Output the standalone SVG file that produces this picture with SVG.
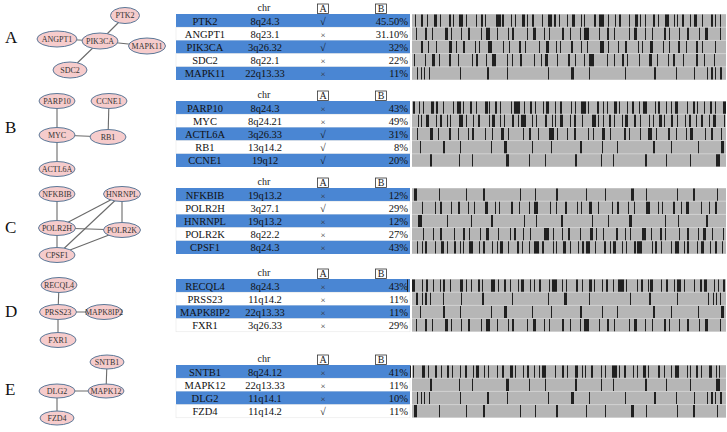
<svg xmlns="http://www.w3.org/2000/svg" xmlns:xlink="http://www.w3.org/1999/xlink" width="727" height="432" viewBox="0 0 727 432">
<style>
.lbl{font-family:"Liberation Serif","Times New Roman",serif;font-size:17px;fill:#111}
.nd ellipse{fill:#f6cccc;stroke:#5b7898;stroke-width:1}
.nd text{font-family:"Liberation Serif","Times New Roman",serif;font-size:8px;fill:#333;text-anchor:middle}
.edge{stroke:#6a6a6a;stroke-width:1.1;fill:none}
.blue{fill:#4a86d3}
.wrow{fill:#fff;stroke:#e2e2e2;stroke-width:0.5}
.t{font-family:"Liberation Serif","Times New Roman",serif;font-size:10.5px;fill:#111;text-anchor:middle}
.r{text-anchor:end}
.x{font-size:9px;fill:#333}
.hd{font-family:"Liberation Serif","Times New Roman",serif;font-size:10px;fill:#222;text-anchor:middle}
.box{fill:#fff;stroke:#333;stroke-width:0.8}
.bg{fill:#d2d2d2}
.row{fill:#b6b6b6}
.bar{stroke:#202020;stroke-width:12.2;fill:none}
</style>
<defs>
<path id="d1" class="bar" d="M0 6.1m3 0h1m5 0h2m4 0h1m6 0h3m3 0h1m8 0h2m2 0h1m5 0h4m3 0h1m9 0h1m4 0h2m2 0h1m10 0h5m1 0h2m7 0h1m3 0h1m6 0h3m2 0h1m4 0h2m8 0h1m5 0h4m2 0h2m3 0h1m7 0h1m4 0h3m6 0h1m2 0h1m9 0h2m3 0h5m4 0h1m6 0h1m3 0h2m8 0h1m5 0h3m2 0h1m4 0h1m7 0h2m3 0h1m6 0h4m5 0h1m2 0h1m4 0h2m6 0h1m3 0h3m5 0h1m8 0h2m2 0h1m4 0h1"/>
<path id="d2" class="bar" d="M0 6.1m1 0h2m4 0h1m3 0h1m7 0h3m2 0h2m5 0h1m9 0h1m3 0h4m2 0h1m6 0h2m4 0h1m8 0h3m1 0h1m5 0h2m3 0h1m10 0h1m2 0h6m4 0h1m5 0h2m3 0h1m7 0h1m2 0h3m6 0h1m4 0h2m9 0h1m3 0h1m5 0h5m2 0h1m8 0h2m4 0h1m3 0h1m6 0h3m2 0h1m7 0h1m4 0h2m5 0h1m3 0h4m8 0h1m2 0h2m6 0h1m4 0h1m3 0h3m9 0h1m5 0h2m2 0h1m6 0h1m5 0h2m3 0h1m7 0h3m4 0h1"/>
<path id="d3" class="bar" d="M0 6.1m6 0h1m2 0h1m4 0h3m7 0h1m3 0h2m5 0h1m2 0h1m8 0h4m3 0h1m6 0h1m4 0h2m9 0h1m2 0h3m5 0h1m3 0h1m7 0h2m4 0h1m2 0h5m6 0h1m3 0h1m8 0h2m5 0h1m2 0h1m4 0h3m7 0h1m3 0h2m6 0h1m9 0h4m2 0h1m4 0h1m5 0h2m3 0h1m7 0h1m2 0h3m6 0h2m4 0h1m8 0h1m3 0h1m5 0h3m2 0h1m6 0h2m4 0h1m7 0h1m3 0h2m5 0h1m4 0h2m6 0h1m3 0h3m8 0h1m2 0h1"/>
<path id="m1" class="bar" d="M0 6.1m4 0h1m8 0h2m5 0h1m12 0h3m3 0h1m9 0h1m6 0h2m11 0h1m4 0h4m7 0h1m10 0h1m3 0h2m13 0h1m5 0h3m8 0h1m4 0h1m12 0h2m6 0h1m9 0h1m3 0h5m10 0h1m7 0h2m5 0h1m14 0h1m4 0h3m8 0h1m6 0h1m11 0h2m3 0h1m9 0h1m7 0h2m10 0h1m5 0h3m12 0h1"/>
<path id="m2" class="bar" d="M0 6.1m9 0h2m5 0h1m7 0h1m12 0h3m4 0h1m6 0h2m10 0h1m3 0h1m8 0h4m11 0h1m5 0h1m9 0h2m4 0h1m13 0h1m6 0h3m7 0h1m3 0h1m10 0h2m8 0h1m5 0h1m12 0h4m4 0h1m9 0h1m6 0h2m11 0h1m3 0h1m7 0h3m10 0h1m5 0h1m8 0h2m6 0h1m9 0h2m4 0h1m12 0h1"/>
<path id="m3" class="bar" d="M0 6.1m2 0h1m10 0h1m6 0h3m4 0h1m9 0h2m7 0h1m13 0h1m3 0h2m8 0h1m5 0h4m11 0h1m4 0h1m7 0h2m12 0h1m6 0h1m3 0h3m9 0h1m10 0h2m5 0h1m8 0h1m4 0h5m13 0h1m6 0h1m7 0h2m3 0h1m11 0h1m9 0h3m5 0h1m10 0h1m4 0h2m8 0h1m12 0h2m6 0h1m9 0h1"/>
<path id="s1" class="bar" d="M0 6.1m8 0h1m22 0h2m15 0h1m30 0h1m12 0h3m25 0h1m18 0h1m28 0h2m20 0h1m14 0h1m35 0h2m16 0h1m26 0h1m22 0h3"/>
<path id="s2" class="bar" d="M0 6.1m18 0h2m27 0h1m12 0h1m33 0h3m20 0h1m15 0h1m29 0h2m24 0h1m11 0h1m31 0h2m19 0h1m23 0h1m25 0h4"/>
<path id="s3" class="bar" d="M0 6.1m5 0h1m3 0h1m2 0h1m4 0h1m30 0h1m26 0h2m18 0h1m40 0h1m22 0h3m15 0h1m35 0h1m28 0h2m20 0h1m17 0h1m12 0h1m3 0h2m2 0h1m4 0h2"/>
</defs>

<!-- section letters -->
<text class="lbl" x="5" y="43">A</text>
<text class="lbl" x="5" y="133">B</text>
<text class="lbl" x="5" y="233">C</text>
<text class="lbl" x="5" y="317">D</text>
<text class="lbl" x="5" y="395">E</text>

<!-- connectors -->
<g id="connectors">
<line class="edge" x1="100" y1="41" x2="125" y2="16"/>
<line class="edge" x1="57" y1="39" x2="100" y2="41"/>
<line class="edge" x1="100" y1="41" x2="147" y2="46"/>
<line class="edge" x1="100" y1="41" x2="70" y2="70"/>
<line class="edge" x1="57" y1="101" x2="57" y2="135"/>
<line class="edge" x1="57" y1="135" x2="108" y2="137"/>
<line class="edge" x1="108" y1="137" x2="109" y2="101"/>
<line class="edge" x1="57" y1="135" x2="57" y2="169"/>
<line class="edge" x1="57" y1="194" x2="57" y2="228"/>
<line class="edge" x1="122" y1="194" x2="122" y2="230"/>
<line class="edge" x1="57" y1="228" x2="122" y2="230"/>
<line class="edge" x1="57" y1="228" x2="122" y2="194"/>
<line class="edge" x1="57" y1="255" x2="122" y2="194"/>
<line class="edge" x1="57" y1="255" x2="122" y2="230"/>
<line class="edge" x1="57" y1="228" x2="57" y2="255"/>
<line class="edge" x1="59" y1="285" x2="58" y2="312"/>
<line class="edge" x1="58" y1="312" x2="104" y2="312"/>
<line class="edge" x1="58" y1="312" x2="58" y2="340"/>
<line class="edge" x1="107" y1="362" x2="106" y2="391"/>
<line class="edge" x1="57" y1="391" x2="106" y2="391"/>
<line class="edge" x1="57" y1="391" x2="57" y2="418"/>
</g>

<!-- nodes -->
<g id="n-PTK2" class="nd"><ellipse cx="125" cy="15.5" rx="14.5" ry="8"/><text x="125" y="18.3">PTK2</text></g>
<g id="n-ANGPT1" class="nd"><ellipse cx="57" cy="39" rx="20" ry="8"/><text x="57" y="41.8">ANGPT1</text></g>
<g id="n-PIK3CA" class="nd"><ellipse cx="100" cy="41" rx="18" ry="8"/><text x="100" y="43.8">PIK3CA</text></g>
<g id="n-MAPK11" class="nd"><ellipse cx="147" cy="46" rx="18.5" ry="8"/><text x="147" y="48.8">MAPK11</text></g>
<g id="n-SDC2" class="nd"><ellipse cx="70" cy="70" rx="17" ry="8"/><text x="70" y="72.8">SDC2</text></g>

<g id="n-PARP10" class="nd"><ellipse cx="57" cy="101" rx="18" ry="7.5"/><text x="57" y="103.8">PARP10</text></g>
<g id="n-CCNE1" class="nd"><ellipse cx="109" cy="101" rx="18" ry="7.5"/><text x="109" y="103.8">CCNE1</text></g>
<g id="n-MYC" class="nd"><ellipse cx="57" cy="135" rx="18" ry="7.5"/><text x="57" y="137.8">MYC</text></g>
<g id="n-RB1" class="nd"><ellipse cx="108" cy="137" rx="18" ry="7.5"/><text x="108" y="139.8">RB1</text></g>
<g id="n-ACTL6A" class="nd"><ellipse cx="57" cy="169" rx="18" ry="7.5"/><text x="57" y="171.8">ACTL6A</text></g>

<g id="n-NFKBIB" class="nd"><ellipse cx="57" cy="194" rx="18" ry="7.5"/><text x="57" y="196.8">NFKBIB</text></g>
<g id="n-HNRNPL" class="nd"><ellipse cx="122" cy="194" rx="18.5" ry="7.5"/><text x="122" y="196.8">HNRNPL</text></g>
<g id="n-POLR2H" class="nd"><ellipse cx="57" cy="228" rx="18.5" ry="7.5"/><text x="57" y="230.8">POLR2H</text></g>
<g id="n-POLR2K" class="nd"><ellipse cx="122" cy="230" rx="18.5" ry="7.5"/><text x="122" y="232.8">POLR2K</text></g>
<g id="n-CPSF1" class="nd"><ellipse cx="57" cy="255" rx="18" ry="7.5"/><text x="57" y="257.8">CPSF1</text></g>

<g id="n-RECQL4" class="nd"><ellipse cx="59" cy="285" rx="18" ry="7.5"/><text x="59" y="287.8">RECQL4</text></g>
<g id="n-PRSS23" class="nd"><ellipse cx="58" cy="312" rx="18.5" ry="7.5"/><text x="58" y="314.8">PRSS23</text></g>
<g id="n-MAPK8IP2" class="nd"><ellipse cx="104" cy="312" rx="18.5" ry="7.5"/><text x="104" y="314.8">MAPK8IP2</text></g>
<g id="n-FXR1" class="nd"><ellipse cx="58" cy="340" rx="18" ry="7.5"/><text x="58" y="342.8">FXR1</text></g>

<g id="n-SNTB1" class="nd"><ellipse cx="107" cy="362" rx="17" ry="7"/><text x="107" y="364.8">SNTB1</text></g>
<g id="n-DLG2" class="nd"><ellipse cx="57" cy="391" rx="18" ry="7"/><text x="57" y="393.8">DLG2</text></g>
<g id="n-MAPK12" class="nd"><ellipse cx="106" cy="391" rx="18" ry="7"/><text x="106" y="393.8">MAPK12</text></g>
<g id="n-FZD4" class="nd"><ellipse cx="57" cy="418" rx="17" ry="7"/><text x="57" y="420.8">FZD4</text></g>

<!-- ===== Table A ===== -->
<g id="table-A">
<text class="hd" x="264" y="11">chr</text>
<rect class="box" x="317.5" y="4" width="11" height="9.5"/><text class="hd" x="323" y="12">A</text>
<rect class="box" x="375.5" y="4" width="11" height="9.5"/><text class="hd" x="381" y="12">B</text>
<rect class="blue" x="176" y="14" width="234" height="13.2"/>
<rect class="wrow" x="176" y="27.2" width="234" height="13.2"/>
<rect class="blue" x="176" y="40.4" width="234" height="13.2"/>
<rect class="wrow" x="176" y="53.6" width="234" height="13.2"/>
<rect class="blue" x="176" y="66.8" width="234" height="13.2"/>
<text class="t" x="205" y="24.5">PTK2</text><text class="t" x="265" y="24.5">8q24.3</text><text class="t" x="323" y="24.5">√</text><text class="t r" x="408" y="24.5">45.50%</text>
<text class="t" x="205" y="37.7">ANGPT1</text><text class="t" x="265" y="37.7">8q23.1</text><text class="t x" x="323" y="37.7">×</text><text class="t r" x="408" y="37.7">31.10%</text>
<text class="t" x="205" y="50.9">PIK3CA</text><text class="t" x="265" y="50.9">3q26.32</text><text class="t" x="323" y="50.9">√</text><text class="t r" x="408" y="50.9">32%</text>
<text class="t" x="205" y="64.1">SDC2</text><text class="t" x="265" y="64.1">8q22.1</text><text class="t x" x="323" y="64.1">×</text><text class="t r" x="408" y="64.1">22%</text>
<text class="t" x="205" y="77.3">MAPK11</text><text class="t" x="265" y="77.3">22q13.33</text><text class="t x" x="323" y="77.3">×</text><text class="t r" x="408" y="77.3">11%</text>
</g>
<g id="bars-A">
<rect class="bg" x="412" y="14" width="314" height="66"/>
<rect class="row" x="412" y="14.5" width="314" height="12.2"/>
<rect class="row" x="412" y="27.7" width="314" height="12.2"/>
<rect class="row" x="412" y="40.9" width="314" height="12.2"/>
<rect class="row" x="412" y="54.1" width="314" height="12.2"/>
<rect class="row" x="412" y="67.3" width="314" height="12.2"/>
<use href="#d1" transform="translate(412,14.5)"/>
<use href="#m1" transform="translate(412,27.7)"/>
<use href="#m2" transform="translate(412,40.9)"/>
<use href="#m3" transform="translate(412,54.1)"/>
<use href="#s3" transform="translate(412,67.3)"/>
</g>

<!-- ===== Table B ===== -->
<g id="table-B">
<text class="hd" x="264" y="98">chr</text>
<rect class="box" x="317.5" y="91" width="11" height="9.5"/><text class="hd" x="323" y="99">A</text>
<rect class="box" x="375.5" y="91" width="11" height="9.5"/><text class="hd" x="381" y="99">B</text>
<rect class="blue" x="176" y="101" width="234" height="13.2"/>
<rect class="wrow" x="176" y="114.2" width="234" height="13.2"/>
<rect class="blue" x="176" y="127.4" width="234" height="13.2"/>
<rect class="wrow" x="176" y="140.6" width="234" height="13.2"/>
<rect class="blue" x="176" y="153.8" width="234" height="13.2"/>
<text class="t" x="205" y="111.5">PARP10</text><text class="t" x="265" y="111.5">8q24.3</text><text class="t x" x="323" y="111.5">×</text><text class="t r" x="408" y="111.5">43%</text>
<text class="t" x="205" y="124.7">MYC</text><text class="t" x="265" y="124.7">8q24.21</text><text class="t x" x="323" y="124.7">×</text><text class="t r" x="408" y="124.7">49%</text>
<text class="t" x="205" y="137.9">ACTL6A</text><text class="t" x="265" y="137.9">3q26.33</text><text class="t" x="323" y="137.9">√</text><text class="t r" x="408" y="137.9">31%</text>
<text class="t" x="205" y="151.1">RB1</text><text class="t" x="265" y="151.1">13q14.2</text><text class="t" x="323" y="151.1">√</text><text class="t r" x="408" y="151.1">8%</text>
<text class="t" x="205" y="164.3">CCNE1</text><text class="t" x="265" y="164.3">19q12</text><text class="t" x="323" y="164.3">√</text><text class="t r" x="408" y="164.3">20%</text>
</g>
<g id="bars-B">
<rect class="bg" x="412" y="101" width="314" height="66"/>
<rect class="row" x="412" y="101.5" width="314" height="12.2"/>
<rect class="row" x="412" y="114.7" width="314" height="12.2"/>
<rect class="row" x="412" y="127.9" width="314" height="12.2"/>
<rect class="row" x="412" y="141.1" width="314" height="12.2"/>
<rect class="row" x="412" y="154.3" width="314" height="12.2"/>
<use href="#d2" transform="translate(412,101.5)"/>
<use href="#d3" transform="translate(412,114.7)"/>
<use href="#m1" transform="translate(726,127.9) scale(-1,1)"/>
<use href="#s1" transform="translate(412,141.1)"/>
<use href="#s2" transform="translate(412,154.3)"/>
</g>

<!-- ===== Table C ===== -->
<g id="table-C">
<text class="hd" x="264" y="185">chr</text>
<rect class="box" x="317.5" y="178" width="11" height="9.5"/><text class="hd" x="323" y="186">A</text>
<rect class="box" x="375.5" y="178" width="11" height="9.5"/><text class="hd" x="381" y="186">B</text>
<rect class="blue" x="176" y="188" width="234" height="13.2"/>
<rect class="wrow" x="176" y="201.2" width="234" height="13.2"/>
<rect class="blue" x="176" y="214.4" width="234" height="13.2"/>
<rect class="wrow" x="176" y="227.6" width="234" height="13.2"/>
<rect class="blue" x="176" y="240.8" width="234" height="13.2"/>
<text class="t" x="205" y="198.5">NFKBIB</text><text class="t" x="265" y="198.5">19q13.2</text><text class="t x" x="323" y="198.5">×</text><text class="t r" x="408" y="198.5">12%</text>
<text class="t" x="205" y="211.7">POLR2H</text><text class="t" x="265" y="211.7">3q27.1</text><text class="t" x="323" y="211.7">√</text><text class="t r" x="408" y="211.7">29%</text>
<text class="t" x="205" y="224.9">HNRNPL</text><text class="t" x="265" y="224.9">19q13.2</text><text class="t x" x="323" y="224.9">×</text><text class="t r" x="408" y="224.9">12%</text>
<text class="t" x="205" y="238.1">POLR2K</text><text class="t" x="265" y="238.1">8q22.2</text><text class="t x" x="323" y="238.1">×</text><text class="t r" x="408" y="238.1">27%</text>
<text class="t" x="205" y="251.3">CPSF1</text><text class="t" x="265" y="251.3">8q24.3</text><text class="t x" x="323" y="251.3">×</text><text class="t r" x="408" y="251.3">43%</text>
</g>
<g id="bars-C">
<rect class="bg" x="412" y="188" width="314" height="66"/>
<rect class="row" x="412" y="188.5" width="314" height="12.2"/>
<rect class="row" x="412" y="201.7" width="314" height="12.2"/>
<rect class="row" x="412" y="214.9" width="314" height="12.2"/>
<rect class="row" x="412" y="228.1" width="314" height="12.2"/>
<rect class="row" x="412" y="241.3" width="314" height="12.2"/>
<use href="#s1" transform="translate(726,188.5) scale(-1,1)"/>
<use href="#m2" transform="translate(726,201.7) scale(-1,1)"/>
<use href="#s2" transform="translate(726,214.9) scale(-1,1)"/>
<use href="#m3" transform="translate(726,228.1) scale(-1,1)"/>
<use href="#d1" transform="translate(726,241.3) scale(-1,1)"/>
</g>

<!-- ===== Table D ===== -->
<g id="table-D">
<text class="hd" x="264" y="276">chr</text>
<rect class="box" x="317.5" y="269" width="11" height="9.5"/><text class="hd" x="323" y="277">A</text>
<rect class="box" x="375.5" y="269" width="11" height="9.5"/><text class="hd" x="381" y="277">B</text>
<rect class="blue" x="176" y="279" width="234" height="13.2"/>
<rect class="wrow" x="176" y="292.2" width="234" height="13.2"/>
<rect class="blue" x="176" y="305.4" width="234" height="13.2"/>
<rect class="wrow" x="176" y="318.6" width="234" height="13.2"/>
<text class="t" x="205" y="289.5">RECQL4</text><text class="t" x="265" y="289.5">8q24.3</text><text class="t x" x="323" y="289.5">×</text><text class="t r" x="408" y="289.5">43%</text>
<text class="t" x="205" y="302.7">PRSS23</text><text class="t" x="265" y="302.7">11q14.2</text><text class="t x" x="323" y="302.7">×</text><text class="t r" x="408" y="302.7">11%</text>
<text class="t" x="205" y="315.9">MAPK8IP2</text><text class="t" x="265" y="315.9">22q13.33</text><text class="t x" x="323" y="315.9">×</text><text class="t r" x="408" y="315.9">11%</text>
<text class="t" x="205" y="329.1">FXR1</text><text class="t" x="265" y="329.1">3q26.33</text><text class="t x" x="323" y="329.1">×</text><text class="t r" x="408" y="329.1">29%</text>
</g>
<g id="bars-D">
<rect class="bg" x="412" y="279" width="314" height="52.8"/>
<rect class="row" x="412" y="279.5" width="314" height="12.2"/>
<rect class="row" x="412" y="292.7" width="314" height="12.2"/>
<rect class="row" x="412" y="305.9" width="314" height="12.2"/>
<rect class="row" x="412" y="319.1" width="314" height="12.2"/>
<use href="#d2" transform="translate(726,279.5) scale(-1,1)"/>
<use href="#s3" transform="translate(726,292.7) scale(-1,1)"/>
<use href="#s1" transform="translate(412,305.9)"/>
<use href="#m1" transform="translate(412,319.1)"/>
</g>

<!-- ===== Table E ===== -->
<g id="table-E">
<text class="hd" x="264" y="362">chr</text>
<rect class="box" x="317.5" y="355" width="11" height="9.5"/><text class="hd" x="323" y="363">A</text>
<rect class="box" x="375.5" y="355" width="11" height="9.5"/><text class="hd" x="381" y="363">B</text>
<rect class="blue" x="176" y="365" width="234" height="13.2"/>
<rect class="wrow" x="176" y="378.2" width="234" height="13.2"/>
<rect class="blue" x="176" y="391.4" width="234" height="13.2"/>
<rect class="wrow" x="176" y="404.6" width="234" height="13.2"/>
<text class="t" x="205" y="375.5">SNTB1</text><text class="t" x="265" y="375.5">8q24.12</text><text class="t x" x="323" y="375.5">×</text><text class="t r" x="408" y="375.5">41%</text>
<text class="t" x="205" y="388.7">MAPK12</text><text class="t" x="265" y="388.7">22q13.33</text><text class="t x" x="323" y="388.7">×</text><text class="t r" x="408" y="388.7">11%</text>
<text class="t" x="205" y="401.9">DLG2</text><text class="t" x="265" y="401.9">11q14.1</text><text class="t x" x="323" y="401.9">×</text><text class="t r" x="408" y="401.9">10%</text>
<text class="t" x="205" y="415.1">FZD4</text><text class="t" x="265" y="415.1">11q14.2</text><text class="t" x="323" y="415.1">√</text><text class="t r" x="408" y="415.1">11%</text>
</g>
<g id="bars-E">
<rect class="bg" x="412" y="365" width="314" height="52.8"/>
<rect class="row" x="412" y="365.5" width="314" height="12.2"/>
<rect class="row" x="412" y="378.7" width="314" height="12.2"/>
<rect class="row" x="412" y="391.9" width="314" height="12.2"/>
<rect class="row" x="412" y="405.1" width="314" height="12.2"/>
<use href="#d3" transform="translate(726,365.5) scale(-1,1)"/>
<use href="#s2" transform="translate(412,378.7)"/>
<use href="#s3" transform="translate(412,391.9)"/>
<use href="#s1" transform="translate(726,405.1) scale(-1,1)"/>
</g>
</svg>
